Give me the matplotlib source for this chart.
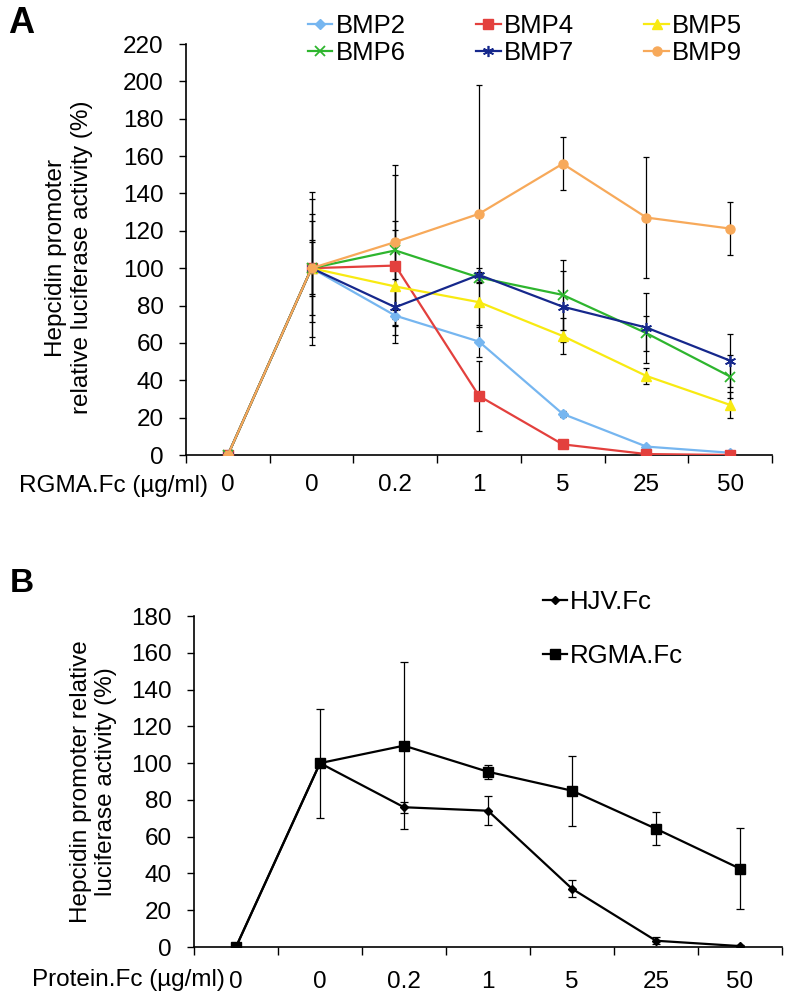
import numpy as np
import matplotlib.pyplot as plt

plt.rcParams['font.family'] = ['Liberation Sans', 'DejaVu Sans']

'''data read off the reference'''

doses = ['0', '0', '0.2', '1', '5', '25', '50']

# panel A, relative luciferase activity (%) and error (+/-)
bmp2 = [0, 100, 74.6, 60.7, 22.0, 4.5, 1.2]
bmp4 = [0, 100, 101.4, 31.6, 5.7, 0.5, 0.0]
bmp5 = [0, 100, 90.2, 81.8, 63.7, 42.3, 26.8]
bmp6 = [0, 100, 109.5, 95.0, 85.7, 65.2, 42.0]
bmp7 = [0, 100, 79.1, 96.4, 79.4, 68.2, 50.5]
bmp9 = [0, 100, 114.0, 129.1, 155.9, 127.1, 121.2]

bmp2_err = [0, 25, 5, 8, 1.8, 1.0, 0.5]
bmp4_err = [0, 15, 23.6, 18.6, 1.0, 0.5, 0.0]
bmp5_err = [0, 29, 30, 12, 9.5, 4.5, 7.0]
bmp6_err = [0, 37, 40.5, 3, 18.7, 9.3, 11.6]
bmp7_err = [0, 14, 15, 3.6, 19, 18.7, 14.1]
bmp9_err = [0, 41, 41, 69, 14.2, 32.6, 14.0]

# panel B
hjv = [0, 100, 76.0, 74.1, 31.7, 3.4, 0.5]
rgma = [0, 100, 109.5, 95.3, 85.0, 64.3, 42.6]
hjv_err = [0, 2, 3, 8, 4.7, 2, 0.5]
rgma_err = [0, 29.6, 45.6, 3.8, 19, 9, 22]

x = np.arange(len(doses))
fs = 17.5
lfs = 18.5

fig = plt.figure(figsize=(7.9, 9.97), dpi=100)
W, H = 790.0, 997.0


def style_axes(ax, ymax, ystep, xpad, ypad):
    ax.spines['top'].set_visible(False)
    ax.spines['right'].set_visible(False)
    ax.spines['left'].set_linewidth(1.2)
    ax.spines['bottom'].set_linewidth(1.2)
    ax.set_xlim(-0.5, len(doses) - 0.5)
    ax.set_ylim(0, ymax)
    ax.set_yticks(np.arange(0, ymax + 1, ystep))
    ax.set_xticks(np.arange(-0.5, len(doses), 1))
    ax.set_xticklabels([])
    ax.set_xticks(x, minor=True)
    ax.set_xticklabels(doses, minor=True)
    ax.tick_params(axis='x', which='major', direction='out', length=5.5, width=1)
    ax.tick_params(axis='x', which='minor', length=0, pad=xpad, labelsize=fs)
    ax.tick_params(axis='y', direction='out', length=5, width=1, pad=ypad, labelsize=fs)


'''panel A'''

axA = fig.add_axes([186 / W, 1 - 455 / H, 586 / W, 411 / H])

seriesA = [
    ('BMP2', bmp2, bmp2_err, '#76b6f0', 'D', 5, 1),
    ('BMP4', bmp4, bmp4_err, '#e3403d', 's', 7, 1),
    ('BMP5', bmp5, bmp5_err, '#f8ea12', '^', 7, 1),
    ('BMP6', bmp6, bmp6_err, '#2eb52e', 'x', 7, 1.3),
    ('BMP7', bmp7, bmp7_err, '#16288c', (6, 2, 0), 8, 1.2),
    ('BMP9', bmp9, bmp9_err, '#f7a95a', 'o', 6.5, 1),
]

handles = {}
for name, vals, err, col, mk, ms, mew in seriesA:
    axA.errorbar(x, vals, yerr=err, fmt='none', ecolor='black',
                 elinewidth=0.9, capsize=2.5, capthick=0.9, zorder=2)
    ln, = axA.plot(x, vals, color=col, marker=mk, markersize=ms, markeredgewidth=mew,
                   markeredgecolor=col, linewidth=1.6, label=name, zorder=3)
    handles[name] = ln

style_axes(axA, 220, 20, 14, 11)
axA.set_ylabel('Hepcidin promoter\nrelative luciferase activity (%)', fontsize=fs,
               linespacing=1.2)
axA.yaxis.set_label_coords(-0.159, 0.48)

fig.text(208 / W, 1 - 486 / H, 'RGMA.Fc (µg/ml)', ha='right', va='center', fontsize=fs)
fig.text(8 / W, 1 - 33 / H, 'A', fontsize=26, fontweight='bold', va='baseline')

# legend filled row by row like the original
order = ['BMP2', 'BMP6', 'BMP4', 'BMP7', 'BMP5', 'BMP9']
axA.legend([handles[n] for n in order], order,
           loc='upper left', bbox_to_anchor=(308 / W, 1 - 14 / H),
           bbox_transform=fig.transFigure, ncol=3, frameon=False, fontsize=lfs,
           handlelength=0.95, handletextpad=0.12, columnspacing=2.75,
           labelspacing=0.12, borderpad=0, borderaxespad=0)

'''panel B'''

axB = fig.add_axes([194 / W, 1 - 947 / H, 588 / W, 331 / H])

axB.errorbar(x, hjv, yerr=hjv_err, fmt='none', ecolor='black',
             elinewidth=0.9, capsize=2.8, capthick=0.9, zorder=2)
axB.errorbar(x, rgma, yerr=rgma_err, fmt='none', ecolor='black',
             elinewidth=0.9, capsize=2.8, capthick=0.9, zorder=2)
axB.plot(x, hjv, color='black', marker='D', markersize=4.5, linewidth=1.6,
         label='HJV.Fc', zorder=3)
axB.plot(x, rgma, color='black', marker='s', markersize=7.5, linewidth=1.6,
         label='RGMA.Fc', zorder=4)

style_axes(axB, 180, 20, 17, 11)
axB.set_ylabel('Hepcidin promoter relative\nluciferase activity (%)', fontsize=fs,
               linespacing=1.2)
axB.yaxis.set_label_coords(-0.131, 0.5)

fig.text(225 / W, 1 - 980 / H, 'Protein.Fc (µg/ml)', ha='right', va='center', fontsize=fs)
fig.text(10 / W, 1 - 592 / H, 'B', fontsize=24, fontweight='bold', va='baseline')

axB.legend(loc='upper left', bbox_to_anchor=(543 / W, 1 - 590 / H),
           bbox_transform=fig.transFigure, ncol=1, frameon=False, fontsize=lfs,
           handlelength=0.95, handletextpad=0.1, labelspacing=1.15,
           borderpad=0, borderaxespad=0)

fig.savefig('out.png', dpi=100)
